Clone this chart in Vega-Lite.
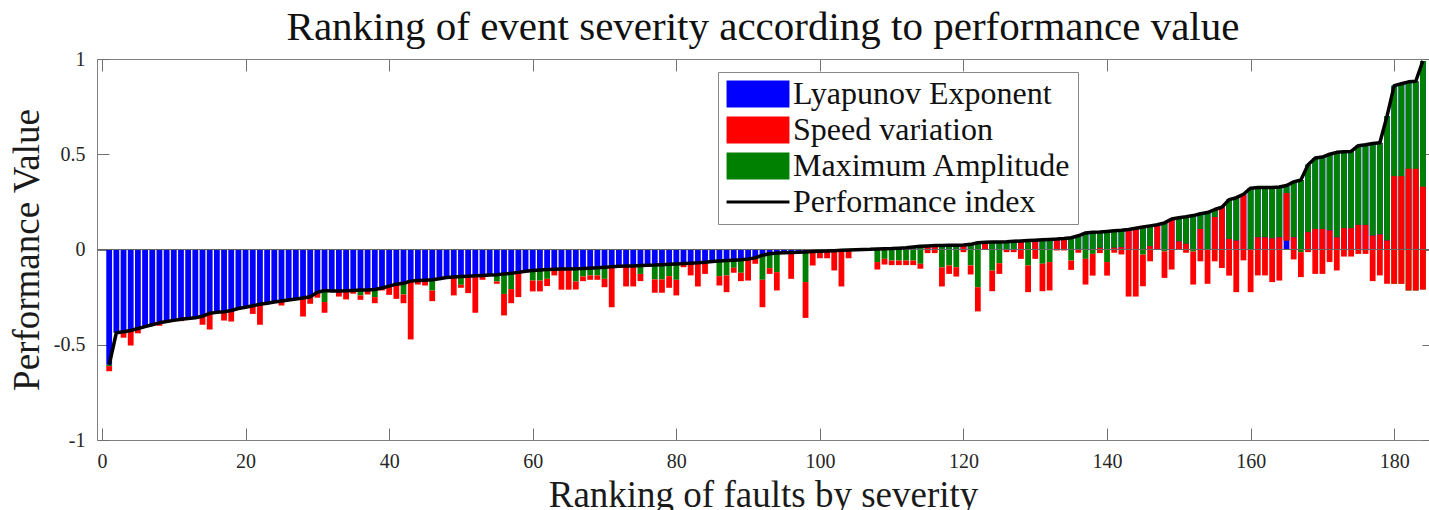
{
"$schema": "https://vega.github.io/schema/vega-lite/v6.json",
"width": 1332, "height": 381,
"autosize": {"type": "none"},
"padding": {"left": 97, "top": 59, "right": 0, "bottom": 70},
"background": "white",
"config": {"view": {"stroke": null}, "font": "Liberation Serif"},
"title": {"text": "Ranking of event severity according to performance value", "fontSize": 41, "font": "Liberation Serif", "fontWeight": "normal", "color": "#111111", "anchor": "middle", "baseline": "alphabetic", "offset": -32},
"data": {"values": [
{"r":1,"p":-0.605,"g":-0.612,"s":-0.639},{"r":2,"p":-0.437,"g":-0.437,"s":-0.437},{"r":3,"p":-0.432,"g":-0.432,"s":-0.463},{"r":4,"p":-0.425,"g":-0.425,"s":-0.504},{"r":5,"p":-0.415,"g":-0.415,"s":-0.44},
{"r":6,"p":-0.405,"g":-0.405,"s":-0.405},{"r":7,"p":-0.395,"g":-0.395,"s":-0.395},{"r":8,"p":-0.385,"g":-0.385,"s":-0.4},{"r":9,"p":-0.378,"g":-0.378,"s":-0.378},{"r":10,"p":-0.372,"g":-0.372,"s":-0.372},
{"r":11,"p":-0.366,"g":-0.366,"s":-0.376},{"r":12,"p":-0.362,"g":-0.362,"s":-0.362},{"r":13,"p":-0.358,"g":-0.358,"s":-0.358},{"r":14,"p":-0.35,"g":-0.35,"s":-0.395},{"r":15,"p":-0.335,"g":-0.335,"s":-0.42},
{"r":16,"p":-0.33,"g":-0.33,"s":-0.33},{"r":17,"p":-0.327,"g":-0.327,"s":-0.373},{"r":18,"p":-0.32,"g":-0.32,"s":-0.378},{"r":19,"p":-0.31,"g":-0.31,"s":-0.31},{"r":20,"p":-0.303,"g":-0.303,"s":-0.303},
{"r":21,"p":-0.295,"g":-0.295,"s":-0.338},{"r":22,"p":-0.287,"g":-0.287,"s":-0.395},{"r":23,"p":-0.282,"g":-0.282,"s":-0.282},{"r":24,"p":-0.276,"g":-0.276,"s":-0.276},{"r":25,"p":-0.27,"g":-0.27,"s":-0.294},
{"r":26,"p":-0.265,"g":-0.265,"s":-0.265},{"r":27,"p":-0.26,"g":-0.26,"s":-0.26},{"r":28,"p":-0.255,"g":-0.255,"s":-0.352},{"r":29,"p":-0.248,"g":-0.248,"s":-0.285},{"r":30,"p":-0.225,"g":-0.225,"s":-0.253},
{"r":31,"p":-0.215,"g":-0.276,"s":-0.332},{"r":32,"p":-0.218,"g":-0.218,"s":-0.218},{"r":33,"p":-0.218,"g":-0.218,"s":-0.247},{"r":34,"p":-0.217,"g":-0.217,"s":-0.262},{"r":35,"p":-0.215,"g":-0.215,"s":-0.232},
{"r":36,"p":-0.213,"g":-0.241,"s":-0.264},{"r":37,"p":-0.212,"g":-0.212,"s":-0.236},{"r":38,"p":-0.21,"g":-0.25,"s":-0.282},{"r":39,"p":-0.202,"g":-0.202,"s":-0.215},{"r":40,"p":-0.192,"g":-0.192,"s":-0.238},
{"r":41,"p":-0.182,"g":-0.182,"s":-0.259},{"r":42,"p":-0.177,"g":-0.236,"s":-0.282},{"r":43,"p":-0.166,"g":-0.166,"s":-0.472},{"r":44,"p":-0.163,"g":-0.163,"s":-0.184},{"r":45,"p":-0.161,"g":-0.161,"s":-0.189},
{"r":46,"p":-0.159,"g":-0.215,"s":-0.271},{"r":47,"p":-0.154,"g":-0.154,"s":-0.154},{"r":48,"p":-0.147,"g":-0.147,"s":-0.147},{"r":49,"p":-0.144,"g":-0.144,"s":-0.241},{"r":50,"p":-0.142,"g":-0.185,"s":-0.201},
{"r":51,"p":-0.14,"g":-0.14,"s":-0.229},{"r":52,"p":-0.138,"g":-0.138,"s":-0.332},{"r":53,"p":-0.136,"g":-0.136,"s":-0.159},{"r":54,"p":-0.134,"g":-0.134,"s":-0.134},{"r":55,"p":-0.132,"g":-0.168,"s":-0.18},
{"r":56,"p":-0.128,"g":-0.233,"s":-0.346},{"r":57,"p":-0.125,"g":-0.208,"s":-0.282},{"r":58,"p":-0.12,"g":-0.12,"s":-0.25},{"r":59,"p":-0.114,"g":-0.114,"s":-0.114},{"r":60,"p":-0.11,"g":-0.163,"s":-0.22},
{"r":61,"p":-0.107,"g":-0.163,"s":-0.22},{"r":62,"p":-0.105,"g":-0.154,"s":-0.192},{"r":63,"p":-0.104,"g":-0.104,"s":-0.136},{"r":64,"p":-0.103,"g":-0.103,"s":-0.211},{"r":65,"p":-0.102,"g":-0.102,"s":-0.211},
{"r":66,"p":-0.101,"g":-0.168,"s":-0.21},{"r":67,"p":-0.1,"g":-0.142,"s":-0.166},{"r":68,"p":-0.098,"g":-0.136,"s":-0.159},{"r":69,"p":-0.096,"g":-0.136,"s":-0.159},{"r":70,"p":-0.093,"g":-0.154,"s":-0.198},
{"r":71,"p":-0.09,"g":-0.09,"s":-0.303},{"r":72,"p":-0.088,"g":-0.088,"s":-0.088},{"r":73,"p":-0.087,"g":-0.087,"s":-0.194},{"r":74,"p":-0.086,"g":-0.086,"s":-0.194},{"r":75,"p":-0.084,"g":-0.128,"s":-0.166},
{"r":76,"p":-0.083,"g":-0.083,"s":-0.083},{"r":77,"p":-0.082,"g":-0.157,"s":-0.227},{"r":78,"p":-0.08,"g":-0.157,"s":-0.227},{"r":79,"p":-0.078,"g":-0.14,"s":-0.201},{"r":80,"p":-0.076,"g":-0.159,"s":-0.241},
{"r":81,"p":-0.074,"g":-0.074,"s":-0.093},{"r":82,"p":-0.072,"g":-0.072,"s":-0.136},{"r":83,"p":-0.07,"g":-0.07,"s":-0.194},{"r":84,"p":-0.067,"g":-0.067,"s":-0.128},{"r":85,"p":-0.063,"g":-0.063,"s":-0.063},
{"r":86,"p":-0.06,"g":-0.14,"s":-0.189},{"r":87,"p":-0.058,"g":-0.136,"s":-0.224},{"r":88,"p":-0.056,"g":-0.096,"s":-0.122},{"r":89,"p":-0.054,"g":-0.122,"s":-0.166},{"r":90,"p":-0.05,"g":-0.05,"s":-0.163},
{"r":91,"p":-0.044,"g":-0.044,"s":-0.075},{"r":92,"p":-0.03,"g":-0.159,"s":-0.303},{"r":93,"p":-0.022,"g":-0.098,"s":-0.128},{"r":94,"p":-0.019,"g":-0.119,"s":-0.215},{"r":95,"p":-0.017,"g":-0.017,"s":-0.017},
{"r":96,"p":-0.016,"g":-0.016,"s":-0.154},{"r":97,"p":-0.015,"g":-0.015,"s":-0.015},{"r":98,"p":-0.013,"g":-0.171,"s":-0.359},{"r":99,"p":-0.011,"g":-0.011,"s":-0.084},{"r":100,"p":-0.009,"g":-0.009,"s":-0.046},
{"r":101,"p":-0.008,"g":-0.008,"s":-0.046},{"r":102,"p":-0.006,"g":-0.006,"s":-0.11},{"r":103,"p":-0.004,"g":-0.004,"s":-0.194},{"r":104,"p":-0.002,"g":-0.002,"s":-0.046},{"r":105,"p":-0.001,"g":-0.001,"s":-0.001},
{"r":106,"p":0.0,"g":0.0,"s":0.0},{"r":107,"p":0.001,"g":0.001,"s":0.001},{"r":108,"p":0.003,"g":-0.066,"s":-0.105},{"r":109,"p":0.004,"g":-0.049,"s":-0.079},{"r":110,"p":0.005,"g":-0.058,"s":-0.082},
{"r":111,"p":0.007,"g":-0.058,"s":-0.082},{"r":112,"p":0.009,"g":-0.058,"s":-0.082},{"r":113,"p":0.013,"g":-0.058,"s":-0.082},{"r":114,"p":0.017,"g":-0.075,"s":-0.101},{"r":115,"p":0.019,"g":0.019,"s":-0.019},
{"r":116,"p":0.021,"g":0.021,"s":-0.019},{"r":117,"p":0.021,"g":-0.094,"s":-0.194},{"r":118,"p":0.022,"g":-0.084,"s":-0.128},{"r":119,"p":0.022,"g":-0.093,"s":-0.142},{"r":120,"p":0.024,"g":0.024,"s":-0.014},
{"r":121,"p":0.027,"g":-0.084,"s":-0.131},{"r":122,"p":0.035,"g":-0.198,"s":-0.325},{"r":123,"p":0.038,"g":0.038,"s":0.0},{"r":124,"p":0.04,"g":-0.11,"s":-0.219},{"r":125,"p":0.04,"g":-0.072,"s":-0.128},
{"r":126,"p":0.041,"g":-0.002,"s":-0.014},{"r":127,"p":0.043,"g":-0.002,"s":-0.014},{"r":128,"p":0.045,"g":0.045,"s":-0.049},{"r":129,"p":0.047,"g":-0.084,"s":-0.224},{"r":130,"p":0.049,"g":0.049,"s":-0.049},
{"r":131,"p":0.051,"g":-0.075,"s":-0.219},{"r":132,"p":0.053,"g":-0.066,"s":-0.215},{"r":133,"p":0.055,"g":0.055,"s":-0.005},{"r":134,"p":0.058,"g":0.058,"s":-0.005},{"r":135,"p":0.062,"g":-0.058,"s":-0.107},
{"r":136,"p":0.072,"g":0.003,"s":-0.017},{"r":137,"p":0.087,"g":-0.049,"s":-0.184},{"r":138,"p":0.09,"g":-0.023,"s":-0.137},{"r":139,"p":0.092,"g":0.009,"s":-0.019},{"r":140,"p":0.095,"g":-0.066,"s":-0.137},
{"r":141,"p":0.098,"g":0.009,"s":-0.017},{"r":142,"p":0.101,"g":0.012,"s":-0.026},{"r":143,"p":0.105,"g":0.105,"s":-0.247},{"r":144,"p":0.112,"g":0.112,"s":-0.247},{"r":145,"p":0.118,"g":-0.027,"s":-0.193},
{"r":146,"p":0.124,"g":0.017,"s":-0.062},{"r":147,"p":0.13,"g":0.13,"s":0.0},{"r":148,"p":0.14,"g":-0.01,"s":-0.149},{"r":149,"p":0.16,"g":0.16,"s":-0.105},{"r":150,"p":0.167,"g":0.042,"s":0.0},
{"r":151,"p":0.172,"g":0.03,"s":-0.017},{"r":152,"p":0.178,"g":-0.011,"s":-0.184},{"r":153,"p":0.188,"g":0.108,"s":-0.062},{"r":154,"p":0.194,"g":0.0,"s":-0.18},{"r":155,"p":0.21,"g":0.17,"s":-0.062},
{"r":156,"p":0.222,"g":0.222,"s":-0.097},{"r":157,"p":0.262,"g":0.056,"s":-0.137},{"r":158,"p":0.272,"g":0.047,"s":-0.224},{"r":159,"p":0.29,"g":0.29,"s":-0.057},{"r":160,"p":0.322,"g":-0.002,"s":-0.224},
{"r":161,"p":0.325,"g":0.064,"s":-0.136},{"r":162,"p":0.325,"g":0.064,"s":-0.136},{"r":163,"p":0.325,"g":0.059,"s":-0.171},{"r":164,"p":0.328,"g":0.064,"s":-0.163},{"r":165,"p":0.336,"g":0.047,"s":0.296},
{"r":166,"p":0.355,"g":0.064,"s":-0.052},{"r":167,"p":0.365,"g":-0.014,"s":-0.145},{"r":168,"p":0.445,"g":0.091,"s":-0.014},{"r":169,"p":0.48,"g":0.108,"s":-0.128},{"r":170,"p":0.485,"g":0.108,"s":-0.128},
{"r":171,"p":0.5,"g":0.1,"s":-0.066},{"r":172,"p":0.51,"g":0.064,"s":-0.11},{"r":173,"p":0.513,"g":0.112,"s":-0.037},{"r":174,"p":0.515,"g":0.112,"s":-0.037},{"r":175,"p":0.545,"g":0.129,"s":-0.023},
{"r":176,"p":0.55,"g":0.129,"s":-0.023},{"r":177,"p":0.556,"g":0.073,"s":-0.166},{"r":178,"p":0.56,"g":0.079,"s":-0.136},{"r":179,"p":0.7,"g":0.047,"s":-0.18},{"r":180,"p":0.86,"g":-0.18,"s":0.385},
{"r":181,"p":0.87,"g":-0.18,"s":0.385},{"r":182,"p":0.88,"g":-0.215,"s":0.424},{"r":183,"p":0.883,"g":-0.215,"s":0.424},{"r":184,"p":0.99,"g":-0.21,"s":0.33}
]},
"layer": [
{"mark": {"type": "bar", "width": 5.8, "clip": true},
 "encoding": {
  "x": {"field": "r", "type": "quantitative", "scale": {"domain": [0, 184.15], "nice": false, "zero": false},
        "axis": {"orient": "bottom", "values": [0,20,40,60,80,100,120,140,160,180], "format": "d", "grid": false,
                 "title": "Ranking of faults by severity", "titleFont": "Liberation Serif", "titleFontSize": 37, "titleFontWeight": "normal", "titleColor": "#1a1a1a", "titlePadding": 6,
                 "labelFont": "Liberation Serif", "labelFontSize": 20, "labelColor": "#262626", "labelPadding": 23, "labelFlush": false,
                 "tickSize": -12, "tickColor": "#707070", "domainColor": "#808080", "domainWidth": 1}},
  "y": {"field": "p", "type": "quantitative", "scale": {"domain": [-1, 1], "nice": false},
        "axis": {"orient": "left", "values": [-1,-0.5,0,0.5,1], "grid": false,
                 "labelExpr": "datum.value == 0 ? '0' : (datum.value < 0 ? '-' : '') + format(abs(datum.value), '~g')",
                 "title": "Performance Value", "titleFont": "Liberation Serif", "titleFontSize": 37, "titleFontWeight": "normal", "titleColor": "#1a1a1a", "titlePadding": 7,
                 "labelFont": "Liberation Serif", "labelFontSize": 20, "labelColor": "#262626", "labelPadding": 24,
                 "tickSize": -12, "tickColor": "#707070", "domainColor": "#808080", "domainWidth": 1}},
  "y2": {"datum": 0},
  "color": {"datum": "Lyapunov Exponent",
            "scale": {"domain": ["Lyapunov Exponent", "Speed variation", "Maximum Amplitude", "Performance index"], "range": ["#0000ff", "#ff0000", "#008000", "#000000"]},
            "legend": {"orient": "none", "legendX": 621, "legendY": 13, "title": null,
                       "labelFont": "Liberation Serif", "labelFontSize": 32, "labelColor": "#111111", "labelLimit": 500,
                       "labelOffset": 19, "symbolOffset": 18, "symbolSize": 729, "symbolType": "M-2.33,-1H2.33V1H-2.33Z", "symbolStrokeWidth": 0,
                       "rowPadding": 4, "padding": 6, "strokeColor": "#888888", "fillColor": "white",
                       "encode": {"symbols": {"update": {
                          "shape": {"signal": "datum.value === 'Performance index' ? 'M-2.33,-0.12H2.33V0.12H-2.33Z' : 'M-2.33,-1H2.33V1H-2.33Z'"},
                          "fill": {"scale": "color", "field": "value"},
                          "stroke": {"value": "transparent"},
                          "opacity": {"value": 1}}}}}}
 }},
{"mark": {"type": "bar", "width": 5.8, "clip": true},
 "encoding": {
  "x": {"field": "r", "type": "quantitative", "axis": null},
  "y": {"field": "p", "type": "quantitative", "axis": null},
  "y2": {"field": "g"},
  "color": {"datum": "Maximum Amplitude"}
 }},
{"mark": {"type": "bar", "width": 5.8, "clip": true},
 "encoding": {
  "x": {"field": "r", "type": "quantitative",
        "axis": {"orient": "top", "values": [0,20,40,60,80,100,120,140,160,180], "labels": false, "title": null, "grid": false,
                 "tickSize": -12, "tickColor": "#707070", "domainColor": "#808080", "domainWidth": 1}},
  "y": {"field": "g", "type": "quantitative",
        "axis": {"orient": "right", "values": [-1,-0.5,0,0.5,1], "labels": false, "title": null, "grid": false, "domain": false,
                 "tickSize": -7, "tickColor": "#707070"}},
  "y2": {"field": "s"},
  "color": {"datum": "Speed variation"}
 }},
{"data": {"values": [{"z": 0}]},
 "mark": {"type": "rule", "color": "#666666", "strokeWidth": 1},
 "encoding": {"y": {"field": "z", "type": "quantitative", "axis": null}}},
{"mark": {"type": "line", "strokeWidth": 3.5, "strokeJoin": "round", "clip": true},
 "encoding": {
  "x": {"field": "r", "type": "quantitative", "axis": null},
  "y": {"field": "p", "type": "quantitative", "axis": null},
  "color": {"datum": "Performance index"}
 }}
]
}
